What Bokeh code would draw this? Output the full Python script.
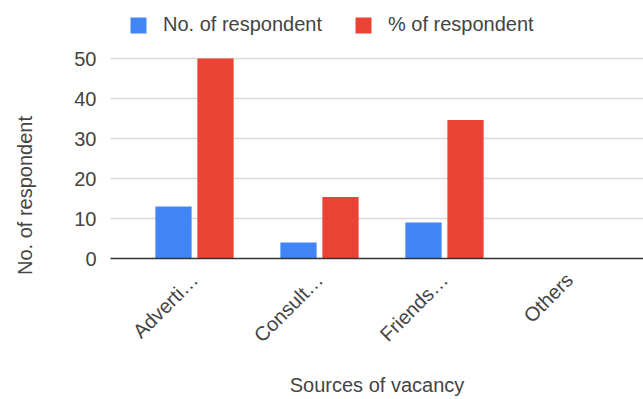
import math
from bokeh.plotting import figure
from bokeh.models import (ColumnDataSource, Range1d, FixedTicker, Legend, LegendItem,
                          Label)
from bokeh.transform import dodge
from bokeh.embed import file_html
from bokeh.resources import INLINE

categories = ["Adverti\u2026", "Consult\u2026", "Friends\u2026", "Others"]
no_of_respondent = [13, 4, 9, 0]
pct_of_respondent = [50, 15.4, 34.6, 0]
y_ticks = [0, 10, 20, 30, 40, 50]

FONT = "Liberation Sans"
BLUE = "#4285F4"
RED = "#EA4335"

src = ColumnDataSource(dict(
    x=list(range(len(categories))),
    no=no_of_respondent,
    pct=pct_of_respondent,
))

# frame reaches the top of the canvas so the legend can sit inside it
p = figure(width=643, height=399, output_backend="svg", toolbar_location=None,
           x_range=Range1d(-0.672, 3.592), y_range=Range1d(0, 64.5),
           min_border_left=110, min_border_right=0, min_border_top=0,
           min_border_bottom=141, outline_line_color=None)

r1 = p.vbar(x=dodge("x", -0.168), top="no", width=0.29, source=src,
            fill_color=BLUE, line_color=None)
r2 = p.vbar(x=dodge("x", 0.168), top="pct", width=0.29, source=src,
            fill_color=RED, line_color=None)

# x axis
xa = p.xaxis[0]
xa.ticker = FixedTicker(ticks=list(range(len(categories))))
xa.major_label_overrides = {i: c for i, c in enumerate(categories)}
xa.major_label_orientation = math.pi / 4
xa.major_tick_line_color = None
xa.minor_tick_line_color = None
xa.axis_line_color = "#333333"
xa.axis_line_width = 1.5
xa.major_label_text_font = FONT
xa.major_label_text_font_size = "20px"
xa.major_label_text_color = "#444444"
xa.major_label_standoff = 12
xa.axis_label = "Sources of vacancy"
xa.axis_label_text_font = FONT
xa.axis_label_text_font_size = "20px"
xa.axis_label_text_font_style = "normal"
xa.axis_label_text_color = "#444444"
xa.axis_label_standoff = 17

# y axis
ya = p.yaxis[0]
ya.ticker = FixedTicker(ticks=y_ticks)
ya.axis_line_color = None
ya.major_tick_line_color = None
ya.minor_tick_line_color = None
ya.major_label_text_font = FONT
ya.major_label_text_font_size = "20px"
ya.major_label_text_color = "#444444"
ya.major_label_standoff = 8

p.xgrid.grid_line_color = None
p.ygrid.grid_line_color = "#d9d9d9"
p.ygrid.grid_line_width = 1.5

ylab = Label(x=-1.36, y=15.75, x_units="data", y_units="data",
             text="No. of respondent", angle=math.pi / 2,
             text_align="center", text_baseline="middle",
             text_font=FONT, text_font_size="20px", text_color="#444444")
p.add_layout(ylab, "left")

legend = Legend(items=[LegendItem(label="No. of respondent", renderers=[r1]),
                       LegendItem(label="% of respondent", renderers=[r2])],
                orientation="horizontal", location=(18, 222),
                glyph_width=20, glyph_height=20, label_standoff=15, spacing=31,
                padding=0, margin=0, border_line_color=None,
                background_fill_alpha=0,
                label_text_font=FONT, label_text_font_size="20px",
                label_text_color="#444444")
p.add_layout(legend)

open("out.html", "w").write(file_html(p, INLINE))
